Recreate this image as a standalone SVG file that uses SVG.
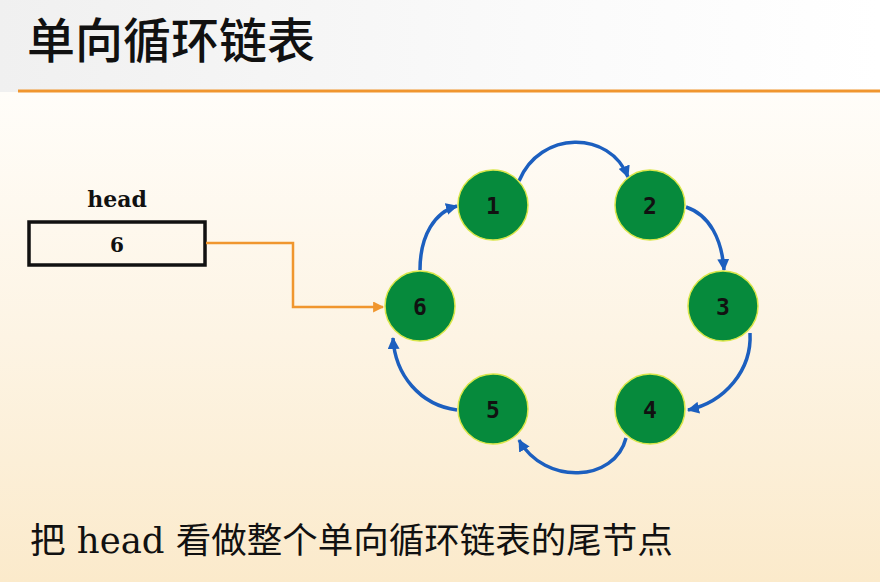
<svg xmlns="http://www.w3.org/2000/svg" width="880" height="582" viewBox="0 0 880 582">
  <defs>
    <linearGradient id="topBg" x1="0" y1="0" x2="1" y2="0">
      <stop offset="0" stop-color="#F0F0F0"/>
      <stop offset="0.6" stop-color="#FAFAFA"/>
      <stop offset="1" stop-color="#FFFFFF"/>
    </linearGradient>
    <linearGradient id="bodyBg" x1="0" y1="0" x2="0" y2="1">
      <stop offset="0" stop-color="#FFFDF9"/>
      <stop offset="0.5" stop-color="#FDF4E4"/>
      <stop offset="1" stop-color="#FBEACB"/>
    </linearGradient>
    <marker id="blueHead" viewBox="0 0 12 12" refX="11" refY="6" markerWidth="12" markerHeight="12" markerUnits="userSpaceOnUse" orient="auto">
      <path d="M0,0 L12,6 L0,12 Z" fill="#1C5FBF"/>
    </marker>
    <marker id="orangeHead" viewBox="0 0 10 10" refX="9" refY="5" markerWidth="11" markerHeight="11" markerUnits="userSpaceOnUse" orient="auto">
      <path d="M0,0 L10,5 L0,10 Z" fill="#F0962E"/>
    </marker>
  </defs>
  <style>
    .title { font-family: "Noto Sans CJK SC", sans-serif; font-size: 48px; font-weight: 500; fill: #111; }
    .note { font-family: "Noto Sans CJK SC", sans-serif; font-size: 35.5px; fill: #111; }
    .slab { font-family: "DejaVu Serif", serif; font-weight: bold; fill: #111; text-anchor: middle; }
    .node circle { fill: #068A3C; stroke: #D9E64A; stroke-width: 1.5; }
    .node text { font-family: "DejaVu Sans Mono", monospace; font-weight: bold; font-size: 23px; fill: #111; text-anchor: middle; dominant-baseline: central; }
    .link { fill: none; stroke: #1C5FBF; stroke-width: 3.5; marker-end: url(#blueHead); }
    .ptr { fill: none; stroke: #F0962E; stroke-width: 2.5; marker-end: url(#orangeHead); }
  </style>

  <!-- background -->
  <rect x="0" y="0" width="880" height="92" fill="url(#topBg)"/>
  <rect x="0" y="92" width="880" height="490" fill="url(#bodyBg)"/>
  <line x1="18" y1="91" x2="880" y2="91" stroke="#F0962E" stroke-width="3"/>

  <text class="title" x="27" y="58">单向循环链表</text>

  <!-- head pointer box -->
  <g id="head">
    <text class="slab" x="117" y="207" font-size="22">head</text>
    <rect x="29" y="222" width="176" height="43" fill="none" stroke="#111" stroke-width="3.5"/>
    <text class="slab" x="117" y="252" font-size="20">6</text>
  </g>

  <!-- connectors -->
  <g id="connectors">
    <path class="ptr" d="M206,243 H293 V307 H383"/>
    <path class="link" d="M519,181 C540,130 610,130 628,177"/>
    <path class="link" d="M686,207 C710,215 722,240 724,270"/>
    <path class="link" d="M750,333 C752,370 725,402 688,410"/>
    <path class="link" d="M626,438 C615,482 545,486 519,440"/>
    <path class="link" d="M457,410 C420,405 395,375 393,338"/>
    <path class="link" d="M420,270 C420,235 435,212 457,206"/>
  </g>

  <!-- list nodes -->
  <g id="node1" class="node"><circle cx="493" cy="205" r="35"/><text x="493" y="206">1</text></g>
  <g id="node2" class="node"><circle cx="650" cy="205" r="35"/><text x="650" y="206">2</text></g>
  <g id="node3" class="node"><circle cx="723" cy="306" r="35"/><text x="723" y="307">3</text></g>
  <g id="node4" class="node"><circle cx="650" cy="409" r="35"/><text x="650" y="410">4</text></g>
  <g id="node5" class="node"><circle cx="493" cy="409" r="35"/><text x="493" y="410">5</text></g>
  <g id="node6" class="node"><circle cx="420" cy="306" r="35"/><text x="420" y="307">6</text></g>

  <text class="note" x="30" y="553">把<tspan font-family="DejaVu Serif, serif"> head </tspan>看做整个单向循环链表的尾节点</text>
</svg>
